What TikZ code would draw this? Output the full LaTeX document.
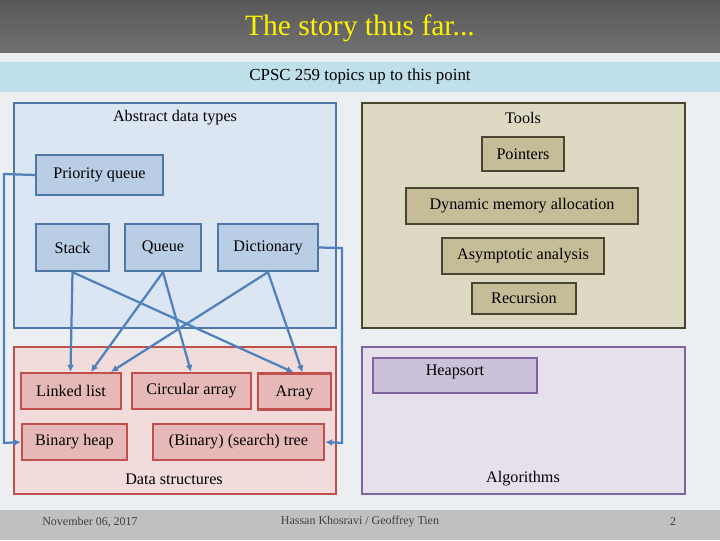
\documentclass[tikz,border=0pt]{standalone}
\usepackage{fontspec}
\setmainfont{Liberation Serif}
\definecolor{adtfill}{HTML}{DCE6F2}
\definecolor{adtline}{HTML}{4F77A8}
\definecolor{adtbox}{HTML}{B9CDE5}
\definecolor{toolfill}{HTML}{DDD9C3}
\definecolor{toolline}{HTML}{4A4530}
\definecolor{toolbox}{HTML}{C4BD97}
\definecolor{dsfill}{HTML}{F2DCDB}
\definecolor{dsline}{HTML}{C0504D}
\definecolor{dsbox}{HTML}{E6B9B8}
\definecolor{algfill}{HTML}{E5E0EC}
\definecolor{algline}{HTML}{8064A2}
\definecolor{algbox}{HTML}{CCC1DA}
\definecolor{bg}{HTML}{ECEFF2}
\definecolor{band}{HTML}{BFDFEA}
\definecolor{titlegray}{HTML}{707070}
\definecolor{foot}{HTML}{C0C0C0}
\definecolor{arrowblue}{HTML}{4F81BD}
\tikzset{
  adt/.style={draw=adtline, fill=adtbox, line width=1.6pt, minimum height=47\pxu, inner sep=2pt},
  tool/.style={draw=toolline, fill=toolbox, line width=1.6pt, minimum height=34\pxu, inner sep=2pt},
  ds/.style={draw=dsline, fill=dsbox, line width=1.6pt, minimum height=36\pxu, inner sep=2pt},
  alg/.style={draw=algline, fill=algbox, line width=1.6pt, minimum height=35\pxu, inner sep=2pt},
  link/.style={draw=arrowblue, line width=1.6pt, -{Latex[length=5pt,width=5pt]}},
}
\newlength{\pxu}\setlength{\pxu}{0.025cm}
\usetikzlibrary{arrows.meta}
\begin{document}
\begin{tikzpicture}[x=0.025cm, y=-0.025cm, font=\fontsize{11.5}{13}\selectfont]
\useasboundingbox (0,0) rectangle (720,540);
\fill[bg] (0,0) rectangle (720,540);
\shade[top color=gray!70!black, bottom color=titlegray] (0,0) rectangle (720,52);
\fill[band] (0,62) rectangle (720,92);
\fill[foot] (0,510) rectangle (720,540);
\node[text=yellow, font=\fontsize{21}{24}\selectfont] (title) at (360,28) {The story thus far...};
\node[font=\fontsize{12}{14}\selectfont] (sub) at (360,76) {CPSC 259 topics up to this point};
% panels
\draw[adtline, fill=adtfill, line width=1.8pt] (14,103) rectangle (336,328);
\draw[toolline, fill=toolfill, line width=1.8pt] (362,103) rectangle (685,328);
\draw[dsline, fill=dsfill, line width=1.8pt] (14,347) rectangle (336,494);
\draw[algline, fill=algfill, line width=1.8pt] (362,347) rectangle (685,494);
\node (adtlabel) at (175,118) {Abstract data types};
\node (toollabel) at (523,118) {Tools};
\node (dslabel) at (174,479) {Data structures};
\node (alglabel) at (523,479) {Algorithms};
% abstract data types
\node[adt, minimum width=127\pxu, minimum height=40\pxu] (pq) at (99.5,175) {Priority queue};
\node[adt, minimum width=73\pxu] (stack) at (72.5,247.5) {Stack};
\node[adt, minimum width=76\pxu] (queue) at (163,247.5) {Queue};
\node[adt, minimum width=100\pxu] (dict) at (268,247.5) {Dictionary};
% tools
\node[tool, minimum width=82\pxu] (ptr) at (523,154) {Pointers};
\node[tool, minimum width=232\pxu, minimum height=36\pxu] (dma) at (522,206) {Dynamic memory allocation};
\node[tool, minimum width=162\pxu, minimum height=36\pxu] (asym) at (523,256) {Asymptotic analysis};
\node[tool, minimum width=104\pxu, minimum height=31\pxu] (rec) at (524,298.5) {Recursion};
% data structures
\node[ds, minimum width=100\pxu] (ll) at (71,391) {Linked list};
\node[ds, minimum width=119\pxu] (circ) at (191.5,391) {Circular array};
\node[ds, minimum width=73\pxu, text depth=-4pt] (arr) at (294.5,391.5) {Array};
\node[ds, minimum width=105\pxu] (heap) at (74.5,442) {Binary heap};
\node[ds, minimum width=171\pxu] (tree) at (238.5,442) {(Binary) (search) tree};
% algorithms
\node[alg, minimum width=164\pxu, text depth=8pt] (hsort) at (455,375.5) {Heapsort};
% footer
\node[font=\fontsize{8.5}{10}\selectfont, text=black!75] (date) at (90,522) {November 06, 2017};
\node[font=\fontsize{8.5}{10}\selectfont, text=black!75] (auth) at (360,522) {Hassan Khosravi / Geoffrey Tien};
\node[font=\fontsize{8.5}{10}\selectfont, text=black!75] (page) at (673,522) {2};
% connectors
\draw[link] (stack.south) -- ([xshift=-0.5\pxu]ll.north);
\draw[link] (stack.south) -- ([xshift=-1\pxu]arr.north);
\draw[link] (queue.south) -- ([xshift=20\pxu]ll.north);
\draw[link] (queue.south) -- ([xshift=-0.5\pxu]circ.north);
\draw[link] (dict.south) -- ([xshift=40\pxu]ll.north);
\draw[link] (dict.south) -- ([xshift=8\pxu]arr.north);
\draw[link] (pq.west) -- (4,174) -- (4,443) -- (heap.west);
\draw[link] (dict.east) -- (342,248) -- (342,443) -- (tree.east);
\end{tikzpicture}
\end{document}
